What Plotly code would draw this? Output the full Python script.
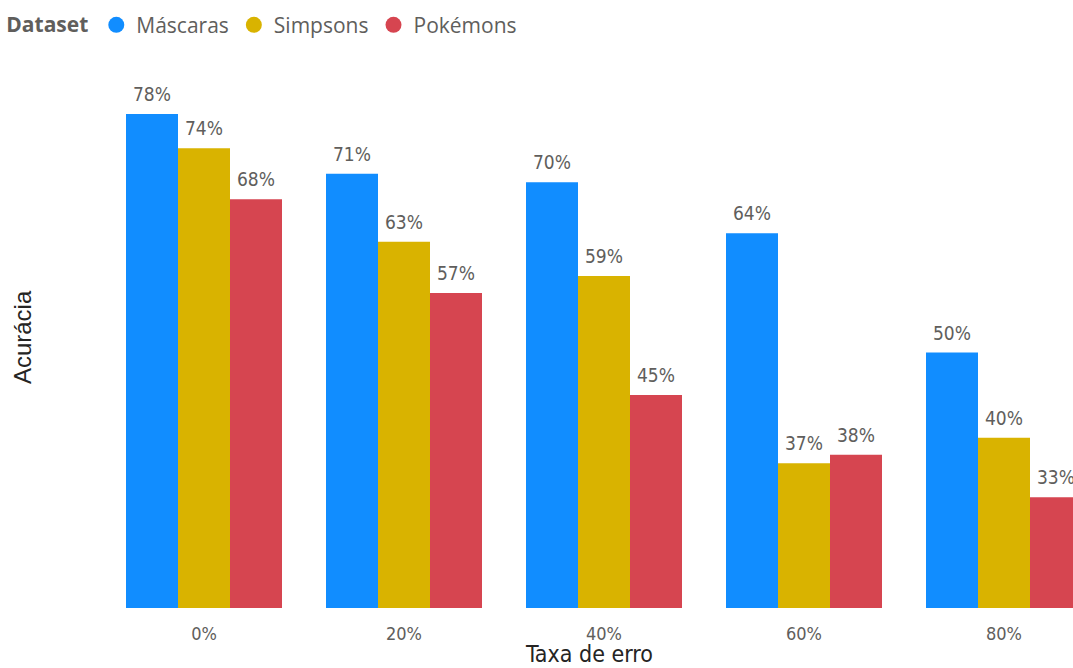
import plotly.graph_objects as go

categories = ["0%", "20%", "40%", "60%", "80%"]
mascaras = [78, 71, 70, 64, 50]
simpsons = [74, 63, 59, 37, 40]
pokemons = [68, 57, 45, 38, 33]
series_names = ["Máscaras", "Simpsons", "Pokémons"]
colors = ["#118DFF", "#D9B300", "#D64550"]
series_values = [mascaras, simpsons, pokemons]

W, H = 1073, 668
ML, MR, MT, MB = 104, 0, 46, 60
XR = [-0.5, 4.345]
BARGAP = 0.22
PH = H - MT - MB

fig = go.Figure()
for name, vals, col in zip(series_names, series_values, colors):
    fig.add_trace(go.Bar(
        x=categories, y=vals, name=name, marker=dict(color=col, line=dict(width=0)),
        showlegend=False, hoverinfo="x+y+name",
    ))
for name, col in zip(series_names, colors):
    fig.add_trace(go.Scatter(
        x=[None], y=[None], mode="markers", name=name,
        marker=dict(color=col, size=19, symbol="circle"), showlegend=True,
    ))

# data labels above bars
px_per_cat = (W - ML - MR) / (XR[1] - XR[0])
bar_w = (1 - BARGAP) * px_per_cat / len(series_names)
annotations = []
for si, vals in enumerate(series_values):
    shift = (si - (len(series_names) - 1) / 2) * bar_w
    for cat, v in zip(categories, vals):
        annotations.append(dict(
            x=cat, y=v, xref="x", yref="y", text=f"{v}%", showarrow=False,
            xanchor="center", yanchor="bottom", xshift=shift, yshift=7,
            font=dict(family="DejaVu Sans Condensed", size=19, color="#605E5C"),
        ))
annotations.append(dict(
    x=(22 - ML) / (W - ML - MR), y=0.482, xref="paper", yref="paper",
    text="Acurácia", textangle=-90, showarrow=False, xanchor="center", yanchor="middle",
    font=dict(family="Liberation Sans", size=24, color="#252423"),
))
annotations.append(dict(
    x=0.5, y=-(654 - (MT + PH)) / PH, xref="paper", yref="paper",
    text="Taxa de erro", showarrow=False, xanchor="center", yanchor="middle",
    font=dict(family="DejaVu Sans Condensed", size=23, color="#252423"),
))

fig.update_layout(
    width=W, height=H,
    margin=dict(l=ML, r=MR, t=MT, b=MB),
    paper_bgcolor="white", plot_bgcolor="white",
    barmode="group", bargap=BARGAP, bargroupgap=0,
    annotations=annotations,
    legend=dict(
        orientation="h", xref="container", yref="container", x=0.004, y=0.993,
        xanchor="left", yanchor="top",
        title=dict(text="<b>Dataset</b>", font=dict(family="Open Sans", size=21, color="#605E5C")),
        font=dict(family="Open Sans", size=21, color="#605E5C"),
        itemsizing="trace", tracegroupgap=0,
    ),
    xaxis=dict(
        range=XR, showgrid=False, zeroline=False, showline=False,
        ticks="outside", ticklen=9, tickcolor="rgba(0,0,0,0)",
        tickfont=dict(family="DejaVu Sans Condensed", size=18, color="#605E5C"),
    ),
    yaxis=dict(
        range=[20, 86], showgrid=False, zeroline=False, showline=False, showticklabels=False,
    ),
)
fig.write_html("out.html")
